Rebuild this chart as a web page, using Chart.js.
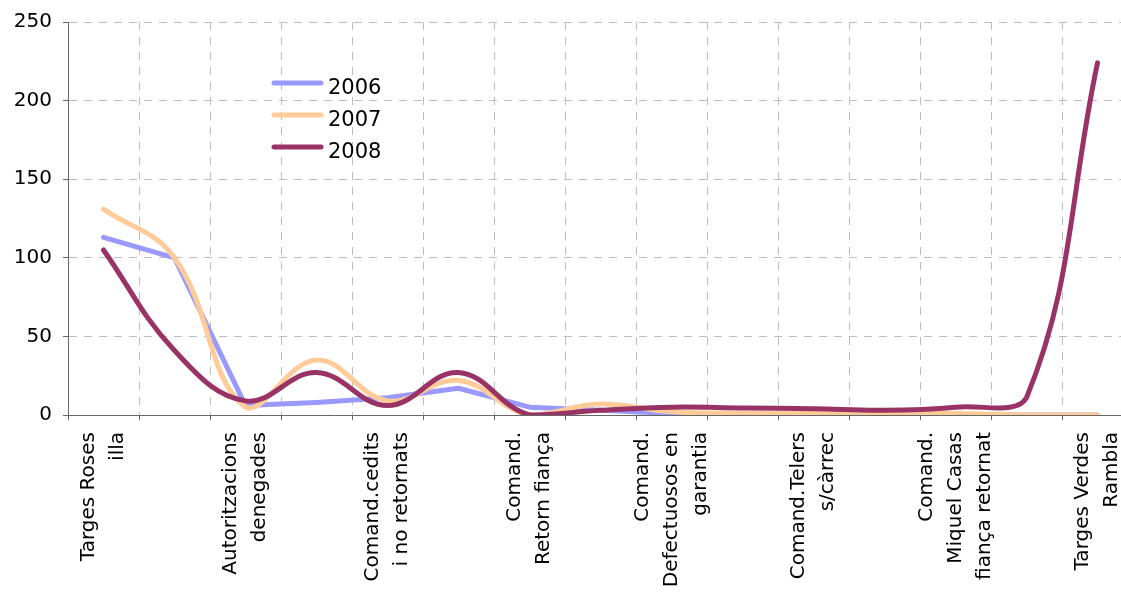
<!DOCTYPE html>
<html>
<head>
<meta charset="utf-8">
<title>Comandes i targes 2006-2008</title>
<script src="https://cdn.jsdelivr.net/npm/chart.js@4.4.1/dist/chart.umd.min.js"></script>
<style>
    html, body { margin: 0; padding: 0; background: #ffffff; overflow: hidden; }
    #chartBox { position: relative; width: 1140px; height: 604px; }
</style>
</head>
<body>
<div id="chartBox"><canvas id="lineChart"></canvas></div>
<script>
// Categories (only every other one carries a label on the axis)
const categories = [
    ['Targes Roses', 'illa'], '',
    ['Autoritzacions', 'denegades'], '',
    ['Comand.cedits', 'i no retornats'], '',
    ['Comand.', 'Retorn fiança'], '',
    ['Comand.', 'Defectuosos en', 'garantia'], '',
    ['Comand.Telers', 's/càrrec'], '',
    ['Comand.', 'Miquel Casas', 'fiança retornat'], '',
    ['Targes Verdes', 'Rambla']
];

// Series values
const values2006 = [113, 100, 6, 8, 11, 17, 5, 3, 1, 0, 0, 0, 0, 0, 0];
const values2007 = [131, 100, 5, 35, 9, 22, 0, 7, 2, 1, 1, 1, 1, 0, 0];
const values2008 = [105, 41, 9, 27, 6, 27, 0, 3, 5, 4.5, 4, 3, 5, 11, 224];

// Y axis
const yTicks = [0, 50, 100, 150, 200, 250];

const FONT = 'DejaVu Sans';
const LABEL_LINE = 29;

document.addEventListener('DOMContentLoaded', function() {
    drawChart();
});

// Center the multi-line rotated category labels on their category
const centerLabels = {
    id: 'centerLabels',
    beforeDraw(chart) {
        const items = chart.scales.x.getLabelItems();
        items.forEach(item => {
            if (item._baseOffset === undefined) {
                item._baseOffset = item.textOffset;
            }
            const lines = Array.isArray(item.label) ? item.label.length : 1;
            item.textOffset = item._baseOffset - (lines - 1) * LABEL_LINE / 2;
        });
    }
};

// Legend drawn inside the plot area
const insideLegend = {
    id: 'insideLegend',
    afterDraw(chart) {
        const ctx = chart.ctx;
        const area = chart.chartArea;
        const x0 = area.left + 204;
        const y0 = area.top + 61;
        ctx.save();
        ctx.font = '21px "' + FONT + '"';
        ctx.textBaseline = 'alphabetic';
        ctx.fillStyle = '#000000';
        chart.data.datasets.forEach((ds, i) => {
            const y = y0 + i * 32;
            ctx.strokeStyle = ds.borderColor;
            ctx.lineWidth = 5;
            ctx.lineCap = 'round';
            ctx.beginPath();
            ctx.moveTo(x0 + 2, y);
            ctx.lineTo(x0 + 49, y);
            ctx.stroke();
            ctx.fillText(ds.label, x0 + 56, y + 11);
        });
        ctx.restore();
    }
};

function drawChart() {
    const ctx = document.getElementById('lineChart');
    const gridStyle = {
        color: '#bdbdbd',
        lineWidth: 1,
        tickColor: '#666666',
        tickBorderDash: [],
        tickLength: 5
    };
    const borderStyle = { color: '#666666', width: 1, dash: [8, 7] };

    new Chart(ctx, {
        type: 'line',
        data: {
            labels: categories,
            datasets: [
                {
                    label: '2006',
                    data: values2006,
                    borderColor: '#9999ff',
                    borderWidth: 5,
                    tension: 0,
                    order: 3
                },
                {
                    label: '2007',
                    data: values2007,
                    borderColor: '#ffcc99',
                    borderWidth: 5,
                    tension: 0.4,
                    order: 2
                },
                {
                    label: '2008',
                    data: values2008,
                    borderColor: '#993366',
                    borderWidth: 5,
                    tension: 0.4,
                    order: 1
                }
            ]
        },
        options: {
            responsive: true,
            maintainAspectRatio: false,
            animation: false,
            layout: {
                padding: { top: 22, right: 7, left: 0, bottom: 0 }
            },
            elements: {
                point: { radius: 0, hoverRadius: 0 },
                line: { borderCapStyle: 'round', borderJoinStyle: 'round', fill: false }
            },
            plugins: {
                legend: { display: false },
                tooltip: { enabled: false }
            },
            scales: {
                x: {
                    offset: true,
                    grid: Object.assign({ offset: true }, gridStyle),
                    border: borderStyle,
                    ticks: {
                        autoSkip: false,
                        minRotation: 90,
                        maxRotation: 90,
                        padding: 12,
                        color: '#000000',
                        font: { family: FONT, size: 20, lineHeight: LABEL_LINE / 20 }
                    },
                    afterFit: function(scale) {
                        scale.height = 189;
                        scale.paddingLeft = 0;
                        scale.paddingRight = 0;
                    }
                },
                y: {
                    min: yTicks[0],
                    max: yTicks[yTicks.length - 1],
                    grid: gridStyle,
                    border: borderStyle,
                    afterBuildTicks: function(scale) {
                        scale.ticks = yTicks.map(v => ({ value: v }));
                    },
                    ticks: {
                        padding: 11,
                        color: '#000000',
                        font: { family: FONT, size: 20 }
                    },
                    afterFit: function(scale) {
                        scale.width = 68;
                        scale.paddingTop = 0;
                        scale.paddingBottom = 0;
                    }
                }
            }
        },
        plugins: [centerLabels, insideLegend]
    });
}
</script>
</body>
</html>
